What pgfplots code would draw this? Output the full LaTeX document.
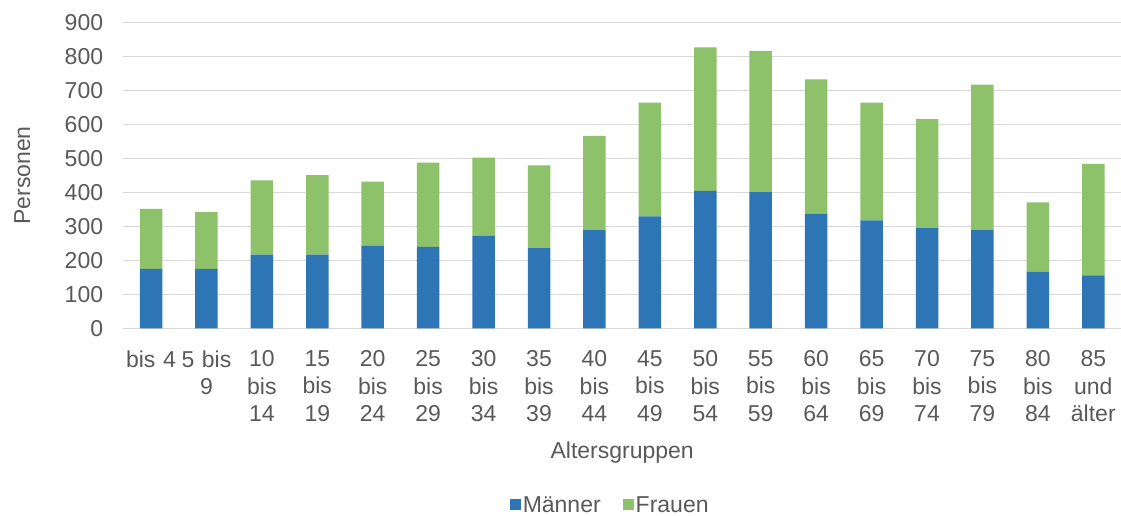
\documentclass[border=0pt]{standalone}
\usepackage{pgfplots}
\pgfplotsset{compat=1.18}
\usepackage{fontspec}
\setmainfont{Liberation Sans}
\definecolor{mblue}{HTML}{2E75B6}
\definecolor{fgreen}{HTML}{8DC16A}
\definecolor{txt}{HTML}{595959}
\definecolor{gridc}{HTML}{D9D9D9}
\begin{document}
\begin{tikzpicture}
\path[use as bounding box] (-123.3pt,-186.7pt) rectangle (997.7pt,328.3pt);
\begin{axis}[
  at={(0pt,0pt)}, anchor=south west,
  scale only axis, width=997.7pt, height=305.6pt,
  ybar stacked, bar width=22.5pt,
  xmin=-0.5, xmax=17.5, ymin=0, ymax=900,
  ytick={0,100,...,900},
  xtick={0,...,17},
  xticklabels={{bis 4},{5 bis\\9},{10\\bis\\14},{15\\bis\\19},{20\\bis\\24},{25\\bis\\29},{30\\bis\\34},{35\\bis\\39},{40\\bis\\44},{45\\bis\\49},{50\\bis\\54},{55\\bis\\59},{60\\bis\\64},{65\\bis\\69},{70\\bis\\74},{75\\bis\\79},{80\\bis\\84},{85\\und\\älter}},
  /pgf/number format/assume math mode=true,
  ymajorgrids, grid style={gridc, line width=1.2pt},
  axis line style={draw=none}, tick style={draw=none},
  major tick length=0pt,
  yticklabel style={font=\fontsize{23}{27.6}\selectfont, text=txt, anchor=east, inner sep=0pt, xshift=-20pt},
  xticklabel style={font=\fontsize{23}{27.5}\selectfont, text=txt, anchor=north, inner sep=0pt, yshift=-22pt, text width=56pt, align=center},
  xlabel={Altersgruppen},
  xlabel style={font=\fontsize{23}{27.6}\selectfont, text=txt, at={(axis description cs:0.5,-0.4244)}, anchor=base, inner sep=0pt},
  ylabel={Personen},
  ylabel style={font=\fontsize{23}{27.6}\selectfont, text=txt, at={(axis description cs:-0.0935,0.5)}, anchor=base, inner sep=0pt},
  legend columns=2,
  legend style={at={(axis description cs:0.488,-0.578)}, anchor=center, draw=none, fill=none,
    font=\fontsize{23}{27.6}\selectfont, text=txt,
    /tikz/every even column/.append style={column sep=20pt},
    nodes={inner sep=2pt}},
  legend image code/.code={\fill[#1] (0pt,-5.5pt) rectangle (11pt,5.5pt);},
]
\addplot[fill=mblue, draw=none] coordinates {(0,175) (1,175) (2,217) (3,217) (4,243) (5,240) (6,273) (7,236) (8,289) (9,330) (10,405) (11,401) (12,338) (13,318) (14,295) (15,289) (16,167) (17,156)};
\addplot[fill=fgreen, draw=none] coordinates {(0,177) (1,167) (2,219) (3,234) (4,189) (5,248) (6,230) (7,244) (8,278) (9,335) (10,422) (11,416) (12,395) (13,347) (14,321) (15,429) (16,204) (17,328)};
\legend{Männer, Frauen}
\end{axis}
\end{tikzpicture}
\end{document}
